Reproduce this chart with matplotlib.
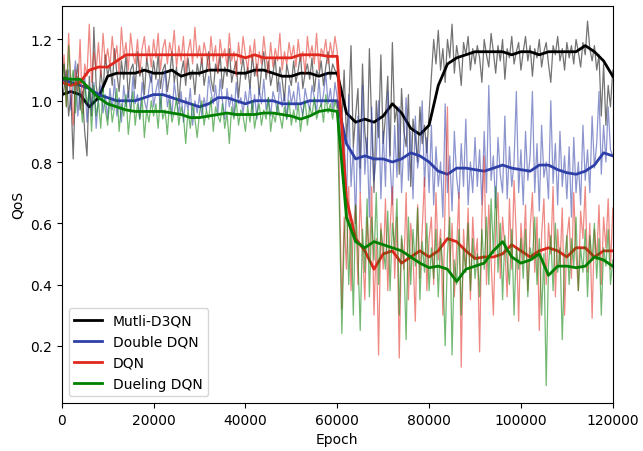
import numpy as np
import matplotlib
matplotlib.use('Agg')
import matplotlib.pyplot as plt

# epochs for raw curves (every 500) and smoothed curves (every 2000)
epochs_raw = np.arange(0, 120001, 500)
epochs_smooth = np.arange(0, 120001, 2000)

# raw QoS, first value at epoch 0 then one row per 10000 epochs
d3qn_raw = [1.00,
    1.04, 1.10, 0.95, 1.02, 0.81, 1.06, 1.12, 0.97, 1.03, 0.90, 0.82, 1.08, 0.95, 1.24, 1.05, 1.00, 1.10, 1.03, 1.15, 1.08,
    1.12, 1.05, 1.17, 1.09, 1.03, 1.13, 1.07, 1.15, 1.01, 1.10, 1.12, 1.04, 1.16, 1.08, 1.11, 1.02, 1.14, 1.09, 1.06, 1.13,
    1.07, 1.15, 1.04, 1.10, 1.12, 1.03, 1.08, 1.16, 1.06, 1.11, 0.99, 1.09, 1.13, 1.05, 1.14, 1.07, 1.10, 1.02, 1.12, 1.08,
    1.14, 1.05, 1.10, 1.16, 1.07, 1.03, 1.12, 1.09, 1.15, 1.04, 1.11, 1.08, 1.17, 1.06, 1.10, 1.13, 1.01, 1.09, 1.14, 1.07,
    1.11, 1.04, 1.15, 1.08, 1.12, 1.02, 1.10, 1.16, 1.07, 1.13, 1.05, 1.09, 1.14, 1.03, 1.11, 1.07, 1.00, 1.12, 1.08, 1.05,
    1.13, 1.06, 1.10, 1.15, 1.04, 1.09, 1.12, 1.07, 1.14, 1.03, 1.10, 1.08, 1.13, 1.05, 1.11, 1.16, 1.07, 1.12, 1.10, 1.09,
    1.02, 0.93, 1.10, 0.88, 0.98, 1.18, 0.85, 0.95, 1.04, 0.78, 1.12, 0.90, 0.82, 1.17, 0.92, 0.70, 1.00, 0.88, 1.15, 0.86,
    0.95, 1.08, 0.82, 1.19, 0.93, 0.98, 0.76, 1.04, 0.90, 0.85, 1.02, 0.72, 0.94, 0.88, 0.80, 0.98, 0.86, 0.92, 0.83, 0.96,
    1.08, 1.20, 1.12, 1.23, 1.10, 1.17, 1.06, 1.20, 1.14, 1.25, 1.09, 1.18, 1.13, 1.05, 1.19, 1.15, 1.21, 1.10, 1.17, 1.12,
    1.18, 1.14, 1.06, 1.20, 1.15, 1.11, 1.22, 1.16, 1.09, 1.18, 1.13, 1.20, 1.07, 1.17, 1.14, 1.21, 1.12, 1.16, 1.19, 1.10,
    1.16, 1.21, 1.13, 1.18, 1.08, 1.17, 1.14, 1.20, 1.11, 1.16, 1.19, 1.12, 1.06, 1.18, 1.15, 1.21, 1.13, 1.17, 1.10, 1.19,
    1.14, 1.18, 1.12, 1.20, 1.16, 1.11, 1.19, 1.15, 1.26, 1.17, 1.13, 1.18, 1.10, 1.15, 0.95, 1.12, 0.92, 1.05, 0.98, 1.10]

ddqn_raw = [1.08,
    1.12, 1.02, 1.10, 0.97, 1.06, 1.13, 0.95, 1.04, 0.99, 1.09, 0.93, 1.03, 0.97, 1.06, 0.91, 1.01, 1.05, 0.96, 1.02, 0.94,
    1.04, 0.97, 1.07, 0.95, 1.01, 0.93, 1.05, 0.98, 1.03, 0.96, 1.08, 0.99, 1.02, 0.94, 1.06, 1.00, 0.97, 1.04, 1.09, 0.98,
    1.03, 1.07, 0.97, 1.05, 1.10, 0.98, 1.02, 0.95, 1.06, 1.00, 0.96, 1.03, 0.93, 1.01, 0.97, 1.04, 0.92, 1.00, 0.96, 1.02,
    0.95, 1.01, 0.97, 1.08, 1.03, 0.99, 1.05, 0.96, 1.07, 1.00, 0.94, 1.04, 0.98, 1.02, 0.95, 1.06, 0.99, 1.01, 0.96, 1.03,
    0.98, 1.05, 0.96, 1.02, 0.94, 1.04, 0.99, 1.07, 0.97, 1.01, 0.95, 1.03, 1.00, 0.96, 1.06, 0.98, 1.02, 0.94, 1.05, 0.99,
    1.03, 0.97, 1.06, 0.99, 0.95, 1.04, 1.00, 0.97, 1.05, 1.01, 0.96, 1.07, 0.98, 1.02, 1.09, 0.99, 1.04, 0.97, 1.06, 1.01,
    0.95, 0.78, 0.90, 0.65, 1.02, 0.72, 0.85, 0.60, 0.95, 0.70, 1.05, 0.76, 0.88, 0.62, 0.98, 0.74, 0.82, 1.00, 0.68, 0.90,
    0.72, 1.03, 0.80, 0.66, 0.92, 0.75, 0.98, 0.70, 0.86, 1.01, 0.74, 0.90, 0.68, 0.95, 0.78, 0.84, 1.00, 0.72, 0.88, 0.70,
    0.92, 0.66, 0.85, 0.72, 0.80, 0.62, 0.99, 0.70, 0.82, 0.64, 0.90, 0.75, 0.68, 0.86, 0.72, 0.94, 0.66, 0.80, 0.70, 0.88,
    0.72, 0.84, 0.66, 0.90, 0.70, 1.05, 0.74, 0.82, 0.65, 0.88, 0.76, 0.70, 0.95, 0.68, 0.85, 0.72, 0.80, 1.03, 0.70, 0.84,
    0.66, 0.90, 0.74, 0.82, 1.03, 0.70, 0.86, 0.64, 0.92, 0.75, 0.80, 0.68, 1.00, 0.73, 0.86, 0.66, 0.90, 0.72, 0.82, 0.68,
    0.85, 0.62, 0.88, 0.70, 0.80, 0.66, 0.92, 0.74, 0.84, 0.70, 0.95, 0.78, 0.86, 1.03, 0.76, 0.92, 0.80, 0.98, 0.84, 0.82]

dqn_raw = [1.02,
    1.15, 0.98, 1.22, 1.05, 0.92, 1.10, 1.03, 1.20, 0.96, 1.12, 1.08, 1.25, 1.06, 1.16, 1.10, 1.19, 1.08, 1.22, 1.12, 1.17,
    1.11, 1.21, 1.13, 1.18, 1.09, 1.24, 1.14, 1.19, 1.10, 1.22, 1.15, 1.12, 1.20, 1.09, 1.17, 1.21, 1.13, 1.18, 1.11, 1.20,
    1.14, 1.22, 1.10, 1.17, 1.20, 1.12, 1.19, 1.15, 1.23, 1.11, 1.18, 1.13, 1.21, 1.09, 1.16, 1.20, 1.12, 1.24, 1.14, 1.18,
    1.12, 1.19, 1.15, 1.10, 1.21, 1.13, 1.18, 1.09, 1.20, 1.14, 1.17, 1.11, 1.22, 1.13, 1.16, 1.08, 1.19, 1.12, 1.21, 1.15,
    1.10, 1.18, 1.13, 1.20, 1.08, 1.16, 1.12, 1.21, 1.14, 1.09, 1.19, 1.11, 1.17, 1.13, 1.22, 1.10, 1.16, 1.12, 1.19, 1.14,
    1.18, 1.11, 1.20, 1.13, 1.16, 1.09, 1.21, 1.14, 1.18, 1.12, 1.22, 1.10, 1.17, 1.15, 1.20, 1.12, 1.19, 1.14, 1.21, 1.16,
    0.70, 0.32, 0.62, 0.45, 0.72, 0.38, 0.58, 0.66, 0.40, 0.70, 0.52, 0.35, 0.62, 0.48, 0.72, 0.30, 0.55, 0.17, 0.60, 0.45,
    0.68, 0.38, 0.58, 0.72, 0.42, 0.62, 0.16, 0.55, 0.45, 0.70, 0.35, 0.60, 0.50, 0.28, 0.66, 0.42, 0.58, 0.75, 0.38, 0.55,
    0.62, 0.40, 0.70, 0.48, 0.58, 0.30, 0.68, 0.98, 0.45, 0.60, 0.36, 0.52, 0.70, 0.13, 0.58, 0.44, 0.65, 0.35, 0.62, 0.48,
    0.55, 0.18, 0.62, 0.82, 0.40, 0.66, 0.48, 0.30, 0.58, 0.70, 0.42, 0.62, 0.52, 0.36, 0.68, 0.45, 0.74, 0.55, 0.28, 0.60,
    0.48, 0.66, 0.38, 0.58, 0.70, 0.44, 0.62, 0.25, 0.56, 0.68, 0.40, 0.60, 0.50, 0.72, 0.36, 0.58, 0.46, 0.65, 0.30, 0.55,
    0.62, 0.42, 0.70, 0.50, 0.38, 0.64, 0.55, 0.72, 0.44, 0.60, 0.29, 0.58, 0.48, 0.66, 0.40, 0.62, 0.52, 0.68, 0.45, 0.65]

dueling_raw = [1.04,
    1.12, 0.98, 1.18, 1.05, 1.10, 0.96, 1.08, 1.02, 0.93, 1.06, 0.99, 1.03, 0.90, 1.05, 0.95, 1.00, 0.91, 1.04, 0.97, 0.92,
    1.01, 0.93, 0.98, 1.04, 0.90, 0.99, 0.95, 1.02, 0.89, 0.97, 1.03, 0.92, 0.99, 0.94, 1.01, 0.88, 0.97, 0.93, 1.00, 0.95,
    0.99, 0.91, 1.02, 0.94, 0.97, 0.89, 1.00, 0.93, 0.96, 1.01, 0.92, 0.98, 0.95, 0.86, 0.97, 0.91, 0.99, 0.94, 0.88, 0.96,
    1.00, 0.92, 0.97, 0.94, 1.01, 0.90, 0.98, 0.95, 0.93, 0.99, 0.91, 0.96, 0.86, 0.98, 0.94, 1.00, 0.92, 0.97, 0.95, 0.90,
    0.98, 0.93, 1.00, 0.91, 0.96, 0.99, 0.92, 0.97, 0.94, 1.01, 0.90, 0.96, 0.93, 0.99, 0.95, 0.91, 0.98, 0.94, 1.00, 0.92,
    0.97, 0.93, 0.99, 0.90, 0.96, 1.00, 0.92, 0.98, 0.95, 1.01, 0.94, 0.97, 0.99, 0.93, 1.02, 0.96, 0.99, 0.94, 1.00, 0.97,
    0.62, 0.24, 0.55, 0.68, 0.40, 0.60, 0.30, 0.66, 0.50, 0.25, 0.58, 0.44, 0.68, 0.36, 0.62, 0.48, 0.70, 0.40, 0.58, 0.52,
    0.45, 0.64, 0.38, 0.60, 0.52, 0.68, 0.30, 0.56, 0.48, 0.22, 0.62, 0.40, 0.58, 0.46, 0.65, 0.35, 0.54, 0.44, 0.60, 0.38,
    0.52, 0.42, 0.58, 0.36, 0.55, 0.46, 0.20, 0.50, 0.62, 0.17, 0.48, 0.40, 0.58, 0.30, 0.52, 0.44, 0.60, 0.38, 0.55, 0.42,
    0.50, 0.36, 0.58, 0.45, 0.62, 0.40, 0.68, 0.50, 0.72, 0.44, 0.60, 0.35, 0.56, 0.48, 0.40, 0.58, 0.30, 0.52, 0.45, 0.55,
    0.42, 0.58, 0.36, 0.52, 0.48, 0.62, 0.40, 0.55, 0.30, 0.50, 0.07, 0.46, 0.56, 0.38, 0.60, 0.44, 0.52, 0.22, 0.48, 0.56,
    0.40, 0.55, 0.46, 0.62, 0.38, 0.52, 0.44, 0.58, 0.36, 0.56, 0.48, 0.60, 0.42, 0.55, 0.30, 0.52, 0.46, 0.58, 0.40, 0.48]

# smoothed QoS
d3qn_smooth = [1.02, 1.03, 1.02, 0.98, 1.01, 1.08, 1.09, 1.09, 1.09, 1.10,
               1.09, 1.09, 1.10, 1.08, 1.09, 1.09, 1.10, 1.10, 1.10, 1.09,
               1.09, 1.10, 1.10, 1.09, 1.08, 1.08, 1.09, 1.09, 1.08, 1.09,
               1.09, 0.96, 0.93, 0.94, 0.93, 0.95, 0.99, 0.96, 0.91, 0.89,
               0.92, 1.05, 1.12, 1.14, 1.15, 1.16, 1.16, 1.16, 1.16, 1.15,
               1.16, 1.16, 1.15, 1.16, 1.16, 1.16, 1.16, 1.18, 1.16, 1.13, 1.08]

ddqn_smooth = [1.07, 1.06, 1.05, 1.04, 1.02, 1.01, 1.00, 1.00, 1.00, 1.01,
               1.02, 1.02, 1.01, 1.00, 0.99, 0.98, 0.99, 1.01, 1.01, 1.00,
               0.99, 1.00, 1.00, 1.00, 0.99, 0.99, 0.99, 1.00, 1.00, 1.00,
               1.00, 0.86, 0.81, 0.82, 0.81, 0.81, 0.80, 0.81, 0.83, 0.82,
               0.80, 0.77, 0.76, 0.78, 0.78, 0.775, 0.77, 0.78, 0.79, 0.78,
               0.775, 0.77, 0.79, 0.79, 0.775, 0.765, 0.76, 0.77, 0.79, 0.83, 0.82]

dqn_smooth = [1.06, 1.05, 1.06, 1.10, 1.11, 1.11, 1.13, 1.15, 1.15, 1.15,
              1.15, 1.15, 1.15, 1.15, 1.15, 1.15, 1.15, 1.15, 1.15, 1.15,
              1.14, 1.15, 1.14, 1.14, 1.14, 1.14, 1.15, 1.15, 1.15, 1.145,
              1.145, 0.68, 0.55, 0.51, 0.45, 0.50, 0.51, 0.47, 0.49, 0.51,
              0.49, 0.51, 0.55, 0.54, 0.51, 0.485, 0.49, 0.49, 0.50, 0.53,
              0.51, 0.49, 0.51, 0.52, 0.51, 0.49, 0.52, 0.52, 0.49, 0.51, 0.51]

dueling_smooth = [1.075, 1.07, 1.07, 1.04, 1.01, 0.99, 0.98, 0.97, 0.965, 0.965,
                  0.965, 0.965, 0.96, 0.955, 0.945, 0.945, 0.95, 0.955, 0.96, 0.955,
                  0.955, 0.955, 0.96, 0.96, 0.955, 0.95, 0.94, 0.95, 0.965, 0.97,
                  0.965, 0.62, 0.54, 0.52, 0.54, 0.53, 0.52, 0.51, 0.49, 0.47,
                  0.455, 0.46, 0.45, 0.41, 0.45, 0.46, 0.47, 0.51, 0.54, 0.49,
                  0.47, 0.48, 0.50, 0.43, 0.46, 0.46, 0.455, 0.46, 0.49, 0.48, 0.46]

labels = ['Mutli-D3QN', 'Double DQN', 'DQN', 'Dueling DQN']
colors = ['black', '#2f3fa8', '#e0281e', 'green']
raw_list = [d3qn_raw, ddqn_raw, dqn_raw, dueling_raw]
smooth_list = [d3qn_smooth, ddqn_smooth, dqn_smooth, dueling_smooth]

fig = plt.figure(figsize=(6.43, 4.52), dpi=100)
ax = fig.add_axes([0.096, 0.106, 0.857, 0.879])

for raw, smooth, c, lab in zip(raw_list, smooth_list, colors, labels):
    ax.plot(epochs_raw, raw, color=c, alpha=0.55, linewidth=0.9)
    ax.plot(epochs_smooth, smooth, color=c, linewidth=2, label=lab)

ax.set_xlim(0, 120000)
ax.set_ylim(0.013, 1.31)
ax.set_xticks([0, 20000, 40000, 60000, 80000, 100000, 120000])
ax.set_yticks([0.2, 0.4, 0.6, 0.8, 1.0, 1.2])
ax.set_xlabel('Epoch')
ax.set_ylabel('QoS')
ax.legend(loc='lower left')

fig.savefig('out.png', dpi=100)
